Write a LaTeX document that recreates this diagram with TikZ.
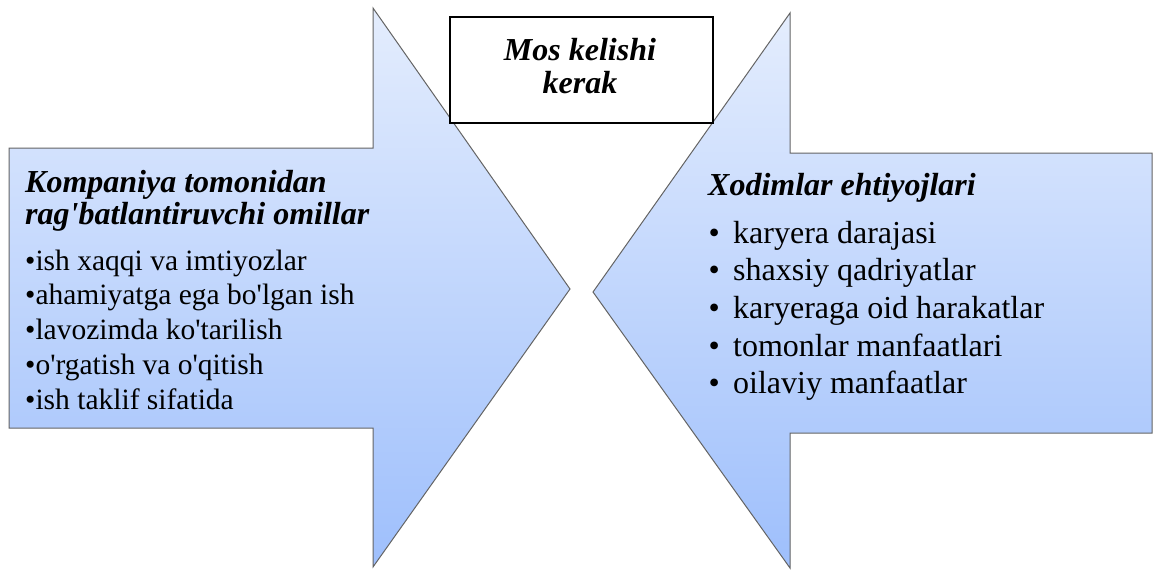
\documentclass[tikz,border=0pt]{standalone}
\usepackage{fontspec}
\setmainfont{Liberation Serif}
\definecolor{arrtop}{RGB}{228,237,253}
\definecolor{arrbot}{RGB}{158,191,252}
\definecolor{edgegray}{RGB}{100,100,100}
\newcommand{\aps}{\textquotesingle}
\begin{document}
\begin{tikzpicture}[x=1pt,y=-1pt,
  arrowshape/.style={draw=edgegray, line width=1pt, line join=miter, top color=arrtop, bottom color=arrbot},
  titletext/.style={anchor=base west, inner sep=0pt, font=\fontsize{32}{32}\selectfont\bfseries\itshape},
  leftitem/.style={anchor=base west, inner sep=0pt, font=\fontsize{29.5}{29.5}\selectfont},
  rightitem/.style={anchor=base west, inner sep=0pt, font=\fontsize{32}{32}\selectfont},
  boxtext/.style={anchor=base, inner sep=0pt, font=\fontsize{32}{32}\selectfont\bfseries\itshape}
]
\useasboundingbox (0,0) rectangle (1154,570);
% left arrow
\path[arrowshape] (9,148) -- (373,148) -- (373,8) -- (570,289) -- (373,567) -- (373,428) -- (9,428) -- cycle;
% right arrow
\path[arrowshape] (1152,153) -- (790,153) -- (790,13) -- (593,292) -- (790,568) -- (790,433) -- (1152,433) -- cycle;
% middle box
\node[draw=black, line width=1.3pt, fill=white, minimum width=263pt, minimum height=106pt, inner sep=0pt] (matchbox) at (581.5,70) {};
\node[boxtext] (match1) at (580,60) {Mos kelishi};
\node[boxtext] (match2) at (580,93) {kerak};
% left text
\node[titletext] (lt1) at (25,192) {Kompaniya tomonidan};
\node[titletext] (lt2) at (25,224) {rag\aps batlantiruvchi omillar};
\node[leftitem] (li1) at (25,270) {•ish xaqqi va imtiyozlar};
\node[leftitem] (li2) at (25,304.5) {•ahamiyatga ega bo\aps lgan ish};
\node[leftitem] (li3) at (25,339.5) {•lavozimda ko\aps tarilish};
\node[leftitem] (li4) at (25,374.5) {•o\aps rgatish va o\aps qitish};
\node[leftitem] (li5) at (25,409.5) {•ish taklif sifatida};
% right text
\node[titletext] (rt1) at (708,195) {Xodimlar ehtiyojlari};
\node[rightitem] (ri1) at (708.5,243) {\makebox[24.5pt][l]{•}karyera darajasi};
\node[rightitem] (ri2) at (708.5,280.5) {\makebox[24.5pt][l]{•}shaxsiy qadriyatlar};
\node[rightitem] (ri3) at (708.5,318.5) {\makebox[24.5pt][l]{•}karyeraga oid harakatlar};
\node[rightitem] (ri4) at (708.5,356) {\makebox[24.5pt][l]{•}tomonlar manfaatlari};
\node[rightitem] (ri5) at (708.5,393.5) {\makebox[24.5pt][l]{•}oilaviy manfaatlar};
\end{tikzpicture}
\end{document}
